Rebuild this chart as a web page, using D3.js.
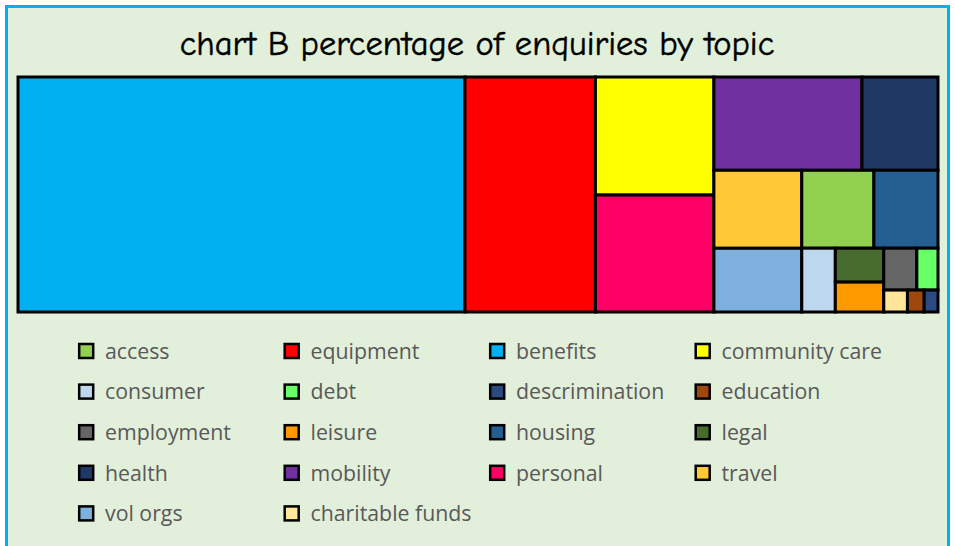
<!DOCTYPE html>
<html>
<head>
<meta charset="utf-8">
<script src="https://cdn.jsdelivr.net/npm/d3@7"></script>
<style>
  body { margin: 0; background: #fff; }
</style>
</head>
<body>
<div id="chart"><svg width="955" height="546"></svg></div>
<script>
// topics in the order the treemap lays them out
var topics = ["benefits", "equipment", "community care", "personal", "mobility", "health",
  "travel", "vol orgs", "access", "housing", "consumer", "legal", "leisure",
  "employment", "debt", "charitable funds", "education", "descrimination"];
var percents = [48.59, 14.18, 6.47, 6.41, 6.39, 3.28, 3.17, 2.59, 2.60, 2.31, 0.99,
  0.76, 0.67, 0.64, 0.41, 0.24, 0.17, 0.14];
var colors = ["#00b0f0", "#ff0000", "#ffff00", "#ff0066", "#7030a0", "#1f3864",
  "#ffc936", "#7eb0dd", "#92d050", "#255e91", "#bdd7ee", "#486b2e", "#ff9900",
  "#666666", "#66ff66", "#ffe699", "#9e480e", "#2b4a82"];
// legend reads row by row, 4 per row
var legendOrder = ["access", "equipment", "benefits", "community care",
  "consumer", "debt", "descrimination", "education",
  "employment", "leisure", "housing", "legal",
  "health", "mobility", "personal", "travel",
  "vol orgs", "charitable funds"];

function drawTreemap(){
  var svg = d3.select("#chart svg");

  // outer frame
  svg.append("rect")
    .attr("x", 6.5).attr("y", 6.5)
    .attr("width", 942).attr("height", 560)
    .attr("fill", "#e2efda")
    .attr("stroke", "#00b0f0")
    .attr("stroke-width", 3);

  svg.append("text")
    .text("chart B percentage of enquiries by topic")
    .attr("x", 477)
    .attr("y", 55)
    .style("text-anchor", "middle")
    .style("font-family", "'Comic Sans MS', 'Comic Neue', 'Open Sans', sans-serif")
    .style("font-size", "34.5px")
    .style("fill", "#000")
    .style("stroke", "#000")
    .style("stroke-width", "0.5px");

  var width = 920, height = 235;
  var g = svg.append("g")
    .attr("transform", "translate(18,77)");

  var data = { children: topics.map(function(t, i){ return {name: t, value: percents[i]}; }) };
  var root = d3.hierarchy(data).sum(function(d){ return d.value || 0; });

  d3.treemap()
    .tile(d3.treemapSquarify.ratio(1))
    .size([width, height])
    .round(false)(root);

  var color = d3.scaleOrdinal().domain(topics).range(colors);

  g.selectAll("rect.cell")
    .data(root.leaves())
    .enter().append("rect")
      .attr("class", "cell")
      .attr("x", function(d){ return d.x0; })
      .attr("y", function(d){ return d.y0; })
      .attr("width", function(d){ return d.x1 - d.x0; })
      .attr("height", function(d){ return d.y1 - d.y0; })
      .attr("fill", function(d){ return color(d.data.name); })
      .attr("stroke", "#000")
      .attr("stroke-width", 3);

  g.append("rect")
    .attr("width", width).attr("height", height)
    .attr("fill", "none")
    .attr("stroke", "#000")
    .attr("stroke-width", 2);

  // legend
  var colX = d3.scaleBand().domain([0, 1, 2, 3]).range([78, 900]);
  var rowY = d3.scaleBand().domain([0, 1, 2, 3, 4]).range([331, 534]);

  var items = svg.append("g").attr("class", "legend")
    .selectAll("g")
    .data(legendOrder)
    .enter().append("g")
      .attr("transform", function(d, i){
        return "translate(" + colX(i % 4) + "," + (rowY(Math.floor(i / 4)) + rowY.bandwidth() / 2) + ")";
      });

  items.append("rect")
    .attr("x", 1.2).attr("y", -7.3)
    .attr("width", 14).attr("height", 14)
    .attr("fill", function(d){ return color(d); })
    .attr("stroke", "#000")
    .attr("stroke-width", 2.5);

  items.append("text")
    .text(function(d){ return d; })
    .attr("x", 27)
    .attr("y", 0)
    .attr("dy", "0.35em")
    .style("font-family", "'Open Sans', sans-serif")
    .style("font-size", "21.3px")
    .style("fill", "#595959");
}

drawTreemap();
</script>
</body>
</html>
